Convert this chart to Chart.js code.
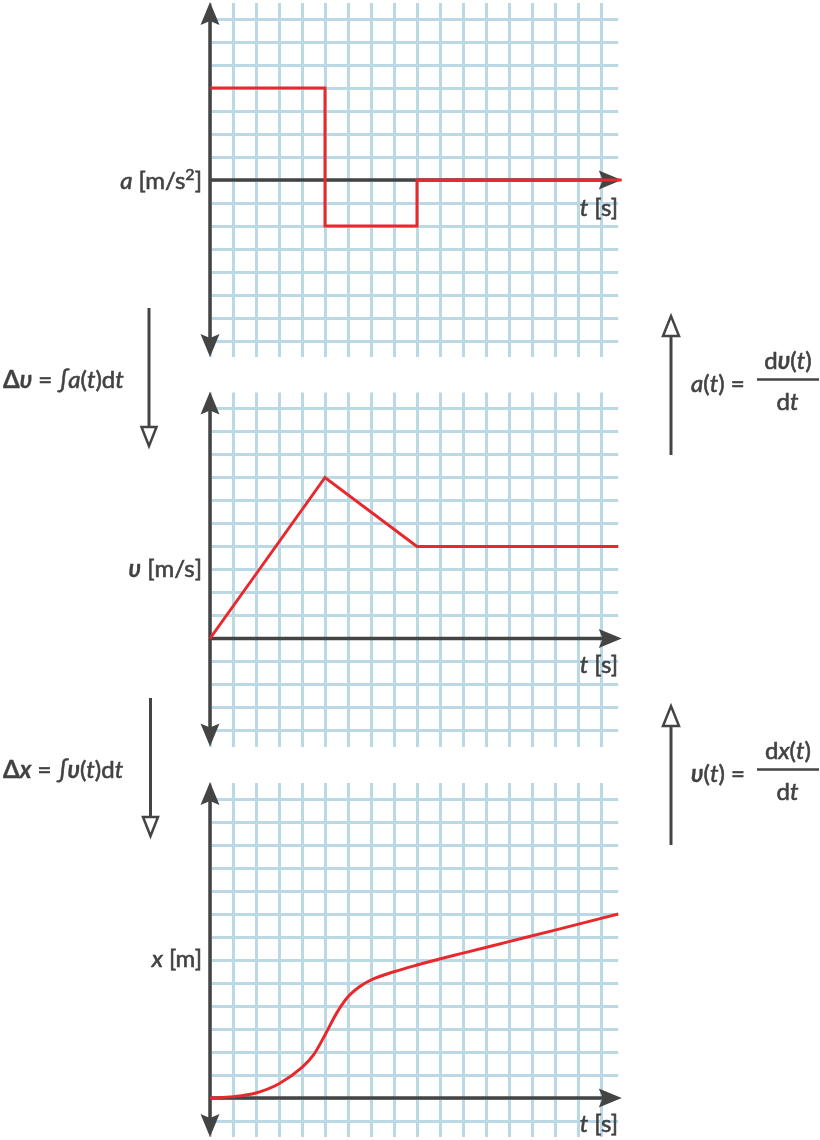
<!DOCTYPE html>
<html>
<head>
<meta charset="utf-8">
<title>a(t), v(t), x(t)</title>
<script src="https://cdn.jsdelivr.net/npm/chart.js@4.4.1/dist/chart.umd.min.js"></script>
<style>
    html, body { margin: 0; padding: 0; background: #fff; }
    #page { position: relative; width: 820px; height: 1140px; overflow: hidden; }
    #page canvas { position: absolute; left: 0; top: 0; }
    #labels { position: absolute; left: 0; top: 0; pointer-events: none; }
    #labels text {
        font-family: Lato, "Noto Sans", sans-serif;
        font-size: 24px;
        fill: #424242;
        stroke: #424242;
        stroke-width: 0.6px;
    }
    #labels .i { font-style: italic; }
    #labels .b { font-weight: bold; stroke-width: 0.3px; }
    #labels .sup { font-size: 16px; }
</style>
</head>
<body>
<div id="page">
    <canvas id="accel-chart" width="820" height="1140"></canvas>
    <canvas id="velocity-chart" width="820" height="1140"></canvas>
    <canvas id="position-chart" width="820" height="1140"></canvas>
    <svg id="labels" width="820" height="1140" xmlns="http://www.w3.org/2000/svg">
        <!-- axis labels -->
        <text x="202" y="189" text-anchor="end"><tspan class="i">a</tspan> [m/s<tspan class="sup" dy="-9">2</tspan><tspan dy="9">]</tspan></text>
        <text x="618" y="216" text-anchor="end"><tspan class="i">t</tspan> [s]</text>
        <text x="202" y="577" text-anchor="end"><tspan class="b i">υ</tspan> [m/s]</text>
        <text x="618" y="673" text-anchor="end"><tspan class="i">t</tspan> [s]</text>
        <text x="202" y="967" text-anchor="end"><tspan class="i">x</tspan> [m]</text>
        <text x="618" y="1132" text-anchor="end"><tspan class="i">t</tspan> [s]</text>

        <!-- integrals, left side -->
        <text x="3" y="388"><tspan class="b">Δ</tspan><tspan class="b i">υ</tspan> = <tspan class="i">∫a</tspan>(<tspan class="i">t</tspan>)d<tspan class="i">t</tspan></text>
        <text x="3" y="778"><tspan class="b">Δ</tspan><tspan class="b i">x</tspan> = <tspan class="i">∫</tspan><tspan class="b i">υ</tspan>(<tspan class="i">t</tspan>)d<tspan class="i">t</tspan></text>

        <!-- derivatives, right side -->
        <text x="691" y="392"><tspan class="i">a</tspan>(<tspan class="i">t</tspan>) =</text>
        <text x="788" y="369" text-anchor="middle">d<tspan class="b i">υ</tspan>(<tspan class="i">t</tspan>)</text>
        <line x1="757" y1="379.5" x2="819" y2="379.5" stroke="#444" stroke-width="2.5"/>
        <text x="787.5" y="410" text-anchor="middle">d<tspan class="i">t</tspan></text>

        <text x="691" y="782"><tspan class="b i">υ</tspan>(<tspan class="i">t</tspan>) =</text>
        <text x="788" y="759" text-anchor="middle">d<tspan class="i">x</tspan>(<tspan class="i">t</tspan>)</text>
        <line x1="757" y1="769.5" x2="819" y2="769.5" stroke="#444" stroke-width="2.5"/>
        <text x="787.5" y="800" text-anchor="middle">d<tspan class="i">t</tspan></text>

        <!-- integrate / differentiate arrows -->
        <g stroke="#444" stroke-width="3" fill="#fff" stroke-linejoin="miter">
            <line x1="149" y1="308" x2="149" y2="427"/>
            <path d="M141.5 427 L156.5 427 L149 446 Z" stroke-width="2.5"/>
            <line x1="671" y1="455" x2="671" y2="336"/>
            <path d="M663 336 L679 336 L671 316 Z" stroke-width="2.5"/>
            <line x1="150.5" y1="698" x2="150.5" y2="817"/>
            <path d="M143 817 L158 817 L150.5 836 Z" stroke-width="2.5"/>
            <line x1="671" y1="845" x2="671" y2="726"/>
            <path d="M663 726 L679 726 L671 706 Z" stroke-width="2.5"/>
        </g>
    </svg>
</div>
<script>
// values, in grid cells (1 cell = 1 unit)
const timeRange = [0, 17.75];

const accelTimes = [0, 5, 9, 17.9];
const accelValues = [4, -2, 0, 0];
const accelRange = [-7.7, 7.7];

const velocityTimes = [0, 5, 9, 17.75];
const velocityValues = [0, 7, 4, 4];
const velocityRange = [-4.7, 10.7];

const positionTimes = [0, 1, 2, 3, 4, 4.5, 5, 5.5, 6, 6.5, 7, 8, 9, 11, 13, 15, 17.75];
const positionValues = [0, 0.06, 0.22, 0.62, 1.33, 1.87, 2.74, 3.68, 4.4, 4.84, 5.13, 5.49, 5.78, 6.3, 6.8, 7.3, 8.0];
const positionRange = [-1.7, 13.7];

const CELL = 23;
const PLOT_LEFT = 210;
const RED = '#e8282c';
const GRID = '#bad9e5';
const AXIS = '#444444';

function arrowHead(ctx, tipX, tipY, dx, dy) {
    const len = 23;
    const half = 9.5;
    const notch = 4;
    const px = -dy;
    const py = dx;
    ctx.beginPath();
    ctx.moveTo(tipX, tipY);
    ctx.lineTo(tipX - dx * len + px * half, tipY - dy * len + py * half);
    ctx.lineTo(tipX - dx * (len - notch), tipY - dy * (len - notch));
    ctx.lineTo(tipX - dx * len - px * half, tipY - dy * len - py * half);
    ctx.closePath();
    ctx.fill();
}

// draws the dark axes with arrow heads under the red curve
const axesPlugin = {
    id: 'arrowAxes',
    beforeDatasetsDraw(chart) {
        const ctx = chart.ctx;
        const area = chart.chartArea;
        const x0 = chart.scales.x.getPixelForValue(0);
        const y0 = chart.scales.y.getPixelForValue(0);
        const tipRight = area.right + 3.5;
        const tipTop = area.top - 1;
        const tipBottom = area.bottom;

        ctx.save();
        ctx.strokeStyle = AXIS;
        ctx.fillStyle = AXIS;
        ctx.lineWidth = 3.5;
        ctx.beginPath();
        ctx.moveTo(x0, tipTop + 10);
        ctx.lineTo(x0, tipBottom - 10);
        ctx.moveTo(x0, y0);
        ctx.lineTo(tipRight - 10, y0);
        ctx.stroke();
        arrowHead(ctx, x0, tipTop, 0, -1);
        arrowHead(ctx, x0, tipBottom, 0, 1);
        arrowHead(ctx, tipRight, y0, 1, 0);
        ctx.restore();
    },
};

function gridScale(range) {
    return {
        type: 'linear',
        min: range[0],
        max: range[1],
        ticks: { display: false, stepSize: 1, includeBounds: false, maxTicksLimit: 100 },
        grid: { color: GRID, lineWidth: 3, drawTicks: false },
        border: { display: false },
    };
}

function buildPanel(canvasId, times, values, yRange, axisY, extra) {
    const canvas = document.getElementById(canvasId);
    const top = axisY - yRange[1] * CELL;
    const bottom = axisY - yRange[0] * CELL;
    const right = PLOT_LEFT + (timeRange[1] - timeRange[0]) * CELL;

    return new Chart(canvas, {
        type: 'line',
        data: {
            datasets: [
                Object.assign(
                    {
                        data: times.map(function (t, i) {
                            return { x: t, y: values[i] };
                        }),
                        borderColor: RED,
                        borderWidth: 3,
                        pointRadius: 0,
                        fill: false,
                        clip: false,
                    },
                    extra
                ),
            ],
        },
        options: {
            responsive: false,
            animation: false,
            events: [],
            layout: {
                padding: {
                    left: PLOT_LEFT,
                    right: canvas.width - right,
                    top: top,
                    bottom: canvas.height - bottom,
                },
            },
            plugins: {
                legend: { display: false },
                tooltip: { enabled: false },
            },
            scales: {
                x: gridScale(timeRange),
                y: gridScale(yRange),
            },
        },
        plugins: [axesPlugin],
    });
}

buildPanel('accel-chart', accelTimes, accelValues, accelRange, 180, { stepped: 'before' });
buildPanel('velocity-chart', velocityTimes, velocityValues, velocityRange, 638.5, { tension: 0 });
buildPanel('position-chart', positionTimes, positionValues, positionRange, 1098, { cubicInterpolationMode: 'monotone' });
</script>
</body>
</html>
